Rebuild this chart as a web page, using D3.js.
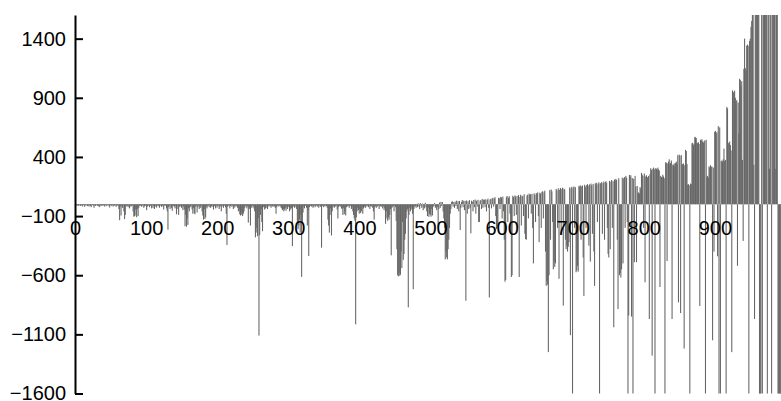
<!DOCTYPE html>
<html>
<head>
<meta charset="utf-8">
<script src="https://cdnjs.cloudflare.com/ajax/libs/d3/7.8.5/d3.min.js"></script>
<style>
  body { margin: 0; background: #fff; }
  text { font-family: "Liberation Sans", Arial, sans-serif; }
</style>
</head>
<body>
<div id="chart"></div>
<script>
// one value per bar, index 0..999
var values = [
  -8, -12, -5, -10, -15, -6, -9, -14, -7, -11,
  -18, -6, -10, -22, -8, -5, -12, -16, -9, -20,
  -7, -13, -25, -9, -6, -11, -30, -8, -14, -10,
  -5, -12, -18, -7, -24, -9, -15, -6, -11, -8,
  -13, -20, -7, -10, -16, -5, -9, -12, -28, -8,
  -10, -15, -6, -19, -9, -12, -7, -22, -11, -8,
  -14, -40, -135, -20, -95, -12, -30, -8, -60, -125,
  -90, -15, -18, -10, -25, -9, -35, -12, -20, -14,
  -8, -60, -105, -100, -45, -95, -110, -40, -100, -30,
  -12, -9, -15, -22, -10, -8, -30, -18, -11, -14,
  -50, -20, -12, -9, -25, -8, -15, -35, -10, -30,
  -13, -40, -9, -20, -28, -11, -8, -16, -30, -12,
  -10, -22, -9, -18, -45, -12, -8, -14, -35, -60,
  -215, -25, -12, -40, -10, -30, -55, -9, -15, -20,
  -35, -12, -85, -10, -40, -90, -22, -8, -18, -30,
  -12, -50, -20, -45, -185, -90, -190, -120, -175, -35,
  -60, -15, -25, -10, -45, -80, -30, -75, -85, -20,
  -12, -70, -25, -9, -40, -18, -30, -11, -60, -95,
  -130, -40, -125, -110, -20, -35, -15, -10, -25, -8,
  -30, -14, -22, -9, -45, -12, -18, -35, -10, -28,
  -15, -9, -40, -22, -12, -60, -18, -10, -30, -14,
  -8, -25, -80, -345, -20, -12, -9, -35, -15, -10,
  -22, -9, -40, -14, -28, -10, -18, -12, -30, -60,
  -45, -85, -95, -90, -70, -100, -80, -60, -30, -12,
  -20, -35, -15, -155, -25, -40, -180, -22, -30, -10,
  -18, -35, -60, -280, -240, -200, -270, -120, -1110, -260,
  -90, -40, -150, -228, -25, -15, -45, -35, -30, -12,
  -40, -10, -20, -9, -15, -30, -12, -18, -8, -22,
  -14, -30, -80, -25, -10, -12, -20, -9, -15, -28,
  -35, -50, -40, -60, -45, -30, -55, -20, -40, -15,
  -25, -60, -45, -30, -35, -354, -20, -15, -30, -10,
  -25, -40, -150, -210, -180, -130, -240, -90, -614, -160,
  -70, -20, -35, -15, -10, -30, -180, -50, -438, -25,
  -15, -10, -20, -12, -30, -18, -9, -25, -14, -10,
  -20, -12, -30, -8, -18, -22, -367, -15, -10, -25,
  -12, -18, -9, -15, -30, -130, -180, -240, -90, -35,
  -264, -60, -25, -12, -30, -15, -20, -10, -45, -120,
  -25, -15, -12, -20, -35, -40, -90, -30, -85, -60,
  -95, -25, -14, -20, -10, -30, -15, -12, -40, -22,
  -60, -90, -120, -140, -1015, -110, -60, -30, -50, -80,
  -40, -75, -60, -20, -80, -35, -25, -15, -30, -10,
  -18, -12, -25, -9, -40, -15, -20, -10, -30, -60,
  -130, -25, -15, -30, -12, -20, -9, -40, -18, -14,
  -22, -10, -35, -15, -50, -30, -165, -60, -120, -140,
  -110, -130, -90, -40, -432, -30, -20, -15, -60, -10,
  -25, -140, -380, -600, -610, -580, -605, -595, -400, -540,
  -150, -470, -420, -300, -250, -120, -60, -40, -872, -90,
  -30, -60, -45, -25, -80, -718, -40, -20, -15, -30,
  -10, -25, 8, -20, -40, 10, -15, -30, 6, -50,
  -20, -35, 12, -25, -60, -100, -30, -107, -80, -90,
  -105, -40, -95, -20, -15, 10, -30, -25, -50, -20,
  -190, -40, 15, -30, 20, -15, 18, -60, -120, -200,
  -466, -400, -450, -466, -380, -300, -200, -80, -40, 20,
  25, -20, 18, -30, 22, -15, 30, -40, 25, -60,
  28, -218, -30, 20, 35, -25, 30, -50, 28, -816,
  32, -80, 25, -40, 35, -30, -246, 30, 22, -60,
  35, -25, 40, -80, 30, -20, 38, -150, -150, 32,
  35, -40, 45, -30, 38, 40, -25, 42, -60, 35,
  48, -30, -788, 40, 45, -35, 50, 55, -20, 48,
  60, -100, -210, -200, -180, 55, 50, -40, 62, 58,
  -120, 65, -60, -300, -655, -640, 60, 70, -150, 55,
  68, -80, -250, -615, -600, 72, 60, -100, 75, 65,
  -90, 70, -200, 78, -615, 62, 80, -180, 72, 68,
  -100, 85, -250, -294, -300, 75, 82, -120, 90, 78,
  85, -80, 88, -200, -500, 92, 80, -150, 95, 85,
  100, -100, -320, 98, 90, -200, 105, 110, -120, 100,
  115, -400, -690, -650, -680, -1250, -600, 120, -300, 125,
  110, -150, -550, -480, -530, -500, 130, 118, -200, 135,
  -630, 122, 138, -250, 128, 140, -857, 132, 125, -300,
  -380, -350, -400, -360, -320, 142, -1107, 135, 148, -1700,
  140, 150, -200, 145, -575, -560, -520, -570, 155, 148,
  160, -300, 152, 158, -450, -775, 165, 150, -200, 162,
  170, 158, -350, 168, -485, 175, 160, -250, 172, -400,
  -690, 178, 165, 182, -150, 170, 185, -1700, 175, 180,
  188, -250, 178, 192, -300, 185, 195, 182, -200, -420,
  -450, 198, -380, 190, 205, -200, 195, -1040, 210, 200,
  215, 205, -300, -886, 220, -600, -580, -620, -550, 225,
  -500, 218, 230, -200, 240, 225, -150, -1700, -942, 248,
  230, 245, -950, 222, -1700, 215, -490, 240, 150, -490,
  155, 95, 100, 90, 145, 130, 265, 250, 240, -200,
  260, -660, 235, 245, 230, 225, 240, -970, 255, 305,
  290, -1280, 300, 310, 295, -1700, 305, 300, 290, 310,
  295, 285, -700, 240, 230, 225, 250, 235, 220, -1700,
  355, 350, -480, 345, 360, 380, 340, 350, 370, -970,
  335, 330, 345, 320, 350, 360, 340, 415, -830, 420,
  410, -920, 415, 335, 340, 345, -1220, 330, 460, 450,
  340, 165, 170, 160, -1700, 175, 170, 515, 520, 500,
  510, 570, 565, 560, 520, 515, 525, 510, -860, 545,
  540, 550, 530, 520, 530, 540, -1700, 545, 230, 240,
  225, 320, 310, 330, 315, 320, -1150, 310, -400, 613,
  620, 600, 610, -440, 660, -1650, 650, -1700, 365, 370,
  360, 380, 470, 365, 375, -1700, 823, 810, 520, 510,
  530, 500, 455, -1250, 963, 950, 940, 960, 900, 870,
  880, -520, 860, 600, 1061, 1050, 1000, 1040, 375, -310,
  1145, 1400, 1150, 1130, 1341, 1350, 1340, -1700, 1380, 1400,
  1500, 1550, 1600, 1700, 335, -970, 1800, 1900, 2000, 2000,
  1900, 2000, -1800, -1800, -1800, 2000, -1900, 2000, 2000, 2000,
  2000, 2000, 2000, -1800, 2000, 2000, 300, 2000, 2000, -1800,
  2000, 2000, 2000, 2000, 300, 2000, 2000, 2000, -1800, -1800,
  -1800, -1800, -1800, -1800, -1800, 2000, 2000, 2000, 2000, 2000
];
var xTicks = [0, 100, 200, 300, 400, 500, 600, 700, 800, 900];
var yTicks = [-1600, -1100, -600, -100, 400, 900, 1400];

var width = 781, height = 401;

var svg = d3.select("#chart")
    .append("svg")
    .attr("width", width)
    .attr("height", height);

var xScale = d3.scaleLinear()
    .domain([0, 1000])
    .range([75, 786]);

var yScale = d3.scaleLinear()
    .domain([-1600, 1600])
    .range([393.5, 15])
    .clamp(true);

// bars overlap a little so dense runs read as solid grey
var barW = (xScale(1) - xScale(0)) * 1.5;

svg.append("g")
    .selectAll("rect")
    .data(values)
    .enter()
    .append("rect")
    .attr("x", function (d, i) { return xScale(i); })
    .attr("width", barW)
    .attr("y", function (d) { return yScale(Math.max(0, d)); })
    .attr("height", function (d) { return Math.abs(yScale(d) - yScale(0)); })
    .attr("fill", "#666");

var fmt = d3.format("d");

// x labels sit under the zero line, no ticks
var xAxis = d3.axisBottom(xScale)
    .tickValues(xTicks)
    .tickFormat(fmt)
    .tickSize(0)
    .tickPadding(17);

svg.append("g")
    .attr("transform", "translate(0," + yScale(0) + ")")
    .call(xAxis)
    .call(function (g) { g.select(".domain").remove(); })
    .selectAll("text")
    .attr("font-size", 20)
    .attr("font-family", "Liberation Sans, Arial, sans-serif")
    .attr("fill", "#000");

// y axis, ticks pointing inward
var yAxis = d3.axisLeft(yScale)
    .tickValues(yTicks)
    .tickFormat(fmt)
    .tickSizeInner(-8)
    .tickSizeOuter(0)
    .tickPadding(9);

var gy = svg.append("g")
    .attr("transform", "translate(75,0)")
    .call(yAxis);

gy.select(".domain").attr("stroke", "#000").attr("stroke-width", 2);
gy.selectAll(".tick line").attr("stroke", "#000").attr("stroke-width", 2);
gy.selectAll("text")
    .attr("font-size", 20)
    .attr("font-family", "Liberation Sans, Arial, sans-serif")
    .attr("fill", "#000");
</script>
</body>
</html>
